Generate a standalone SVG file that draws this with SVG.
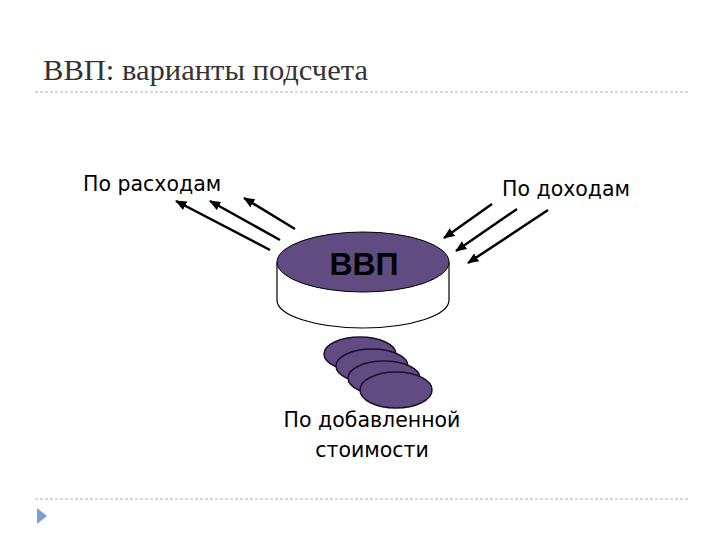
<svg xmlns="http://www.w3.org/2000/svg" width="720" height="540" viewBox="0 0 720 540">
<defs>
<style>
.lbl{font-family:"DejaVu Sans","Liberation Sans",sans-serif;font-size:20.5px;fill:#000}
.sep{stroke:#b0b0b0;stroke-width:1;stroke-dasharray:3 2}
.arr{stroke:#000;stroke-width:2.5;fill:none;marker-end:url(#ah)}
.disc{fill:#604c80;stroke:#1a1030;stroke-width:1.5}
</style>
<marker id="ah" viewBox="0 0 12 10" refX="11" refY="5" markerWidth="4.5" markerHeight="3.8" orient="auto" markerUnits="strokeWidth">
<path d="M0,0 L12,5 L0,10 z" fill="#000"/>
</marker>
</defs>
<rect width="720" height="540" fill="#fff"/>
<text x="43" y="80" font-family="Liberation Serif,serif" font-size="29" fill="#333" textLength="325" lengthAdjust="spacingAndGlyphs">ВВП: варианты подсчета</text>
<line class="sep" x1="35" y1="92" x2="688" y2="92"/>
<line class="sep" x1="35" y1="499" x2="688" y2="499"/>
<polygon points="37,508 47,516 37,524" fill="#7a9fd0"/>
<g id="connectors">
<line class="arr" x1="270" y1="250" x2="176" y2="201"/>
<line class="arr" x1="280" y1="240" x2="210" y2="201"/>
<line class="arr" x1="295" y1="229" x2="244" y2="198"/>
<line class="arr" x1="492" y1="204" x2="444" y2="238"/>
<line class="arr" x1="517" y1="209" x2="456" y2="251"/>
<line class="arr" x1="548" y1="210" x2="468" y2="263"/>
</g>
<g id="node-expenses"><text class="lbl" x="83" y="191">По расходам</text></g>
<g id="node-income"><text class="lbl" x="502" y="196">По доходам</text></g>
<g id="node-gdp">
<path d="M277,262 L277,300 A86,28 0 0 0 449,300 L449,262" fill="#fff" stroke="#000" stroke-width="1.2"/>
<ellipse cx="363" cy="262" rx="86" ry="30" fill="#604c80" stroke="#000" stroke-width="1"/>
<text x="364" y="275" text-anchor="middle" font-family="Liberation Sans,Arial,sans-serif" font-size="32" font-weight="bold" fill="#000">ВВП</text>
</g>
<g id="node-value-added">
<ellipse class="disc" cx="360" cy="354" rx="36" ry="17"/>
<ellipse class="disc" cx="372" cy="366" rx="36" ry="17"/>
<ellipse class="disc" cx="384" cy="378" rx="36" ry="17"/>
<ellipse class="disc" cx="396" cy="390" rx="36" ry="18"/>
<text class="lbl" x="372" y="427" text-anchor="middle">По добавленной</text>
<text class="lbl" x="372" y="457" text-anchor="middle">стоимости</text>
</g>
</svg>
